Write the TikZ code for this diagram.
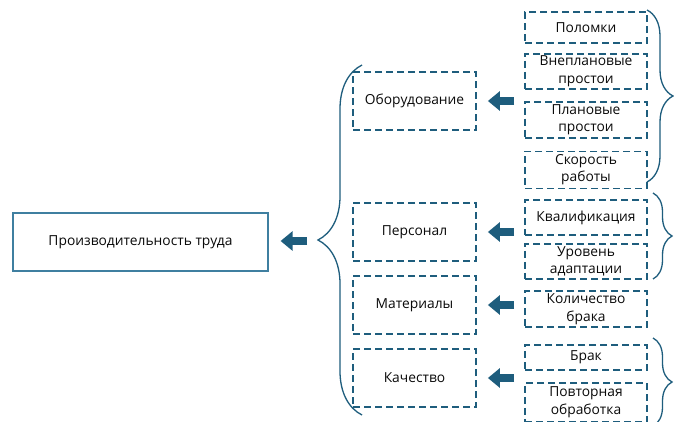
\documentclass[tikz,border=0pt]{standalone}
\usepackage{fontspec}
\setmainfont{Open Sans}
\usetikzlibrary{arrows.meta, positioning, decorations.pathreplacing}
\definecolor{ink}{HTML}{0A0A0A}
\definecolor{tealdk}{HTML}{1E5D7D}
\definecolor{teallt}{HTML}{3F7FA0}

\begin{document}
\begin{tikzpicture}[x=1pt, y=-1pt,
    every node/.style={text=ink, font=\fontsize{13.8}{17.5}\selectfont},
    mainbox/.style={draw=teallt, line width=1.2pt, minimum width=255pt, minimum height=58pt, inner sep=0pt},
    dashbox/.style={draw=tealdk, line width=1.8pt, dash pattern=on 7pt off 4pt, minimum width=123pt, minimum height=58pt, inner sep=0pt, align=center},
    subbox/.style={draw=tealdk, line width=1.8pt, dash pattern=on 7pt off 4pt, minimum width=122pt, inner sep=0pt, align=center},
    blockarrow/.style={draw=tealdk, line width=8.5pt, -{Triangle[length=12pt, width=19pt]}},
    bracesty/.style={draw=tealdk, line width=1.3pt, decorate, decoration={brace, amplitude=#1}}
]

% ---------------- canvas 674 x 421, white ----------------
\useasboundingbox (0,0) rectangle (674,421);
\fill[white] (0,0) rectangle (674,421);

% ---------------- result ----------------
\node[mainbox] (prod) at (140.5,242) {Производительность труда};

% ---------------- factor groups ----------------
\node[dashbox] (obor) at (414.5,101) {Оборудование};
\node[dashbox] (pers) at (414.5,232) {Персонал};
\node[dashbox] (mat)  at (414.5,305) {Материалы};
\node[dashbox] (kach) at (414.5,378) {Качество};

% ---------------- indicators ----------------
\node[subbox, minimum height=31pt] (polom) at (586,27.5) {Поломки};
\node[subbox, minimum height=35pt, below=9pt of polom] (vnepl) {Внеплановые\\простои};
\node[subbox, minimum height=36pt, below=11pt of vnepl] (plan) {Плановые\\простои};
\node[subbox, minimum height=37pt, below=12pt of plan] (skor) {Скорость\\работы};

\node[subbox, minimum height=35pt] (kval) at (586,217.5) {Квалификация};
\node[subbox, minimum height=35pt, below=7pt of kval] (urov) {Уровень\\адаптации};

\node[subbox, minimum height=36pt] (kolvo) at (586,309) {Количество\\брака};

\node[subbox, minimum height=25pt] (brak) at (586,357.5) {Брак};
\node[subbox, minimum height=39pt, below=11pt of brak] (povt) {Повторная\\обработка};

% ---------------- braces ----------------
\draw[bracesty=44pt] (362,415) -- (362,65);
\coordinate (bigtip) at (318,241);
\draw[bracesty=26pt] (647,10) -- (647,182);
\draw[bracesty=19pt] (653,193) -- (653,279);
\draw[bracesty=19pt] (653,338) -- (653,426);

% ---------------- block arrows ----------------
\draw[blockarrow, shorten <=11pt, shorten >=12pt] (bigtip) -- (bigtip -| prod.east);
\draw[blockarrow, shorten <=10pt, shorten >=11pt] (obor.east -| polom.west) -- (obor.east);
\draw[blockarrow, shorten <=10pt, shorten >=11pt] (pers.east -| kval.west) -- (pers.east);
\draw[blockarrow, shorten <=10pt, shorten >=11pt] (mat.east -| kolvo.west) -- (mat.east);
\draw[blockarrow, shorten <=10pt, shorten >=11pt] (kach.east -| brak.west) -- (kach.east);

\end{tikzpicture}
\end{document}
